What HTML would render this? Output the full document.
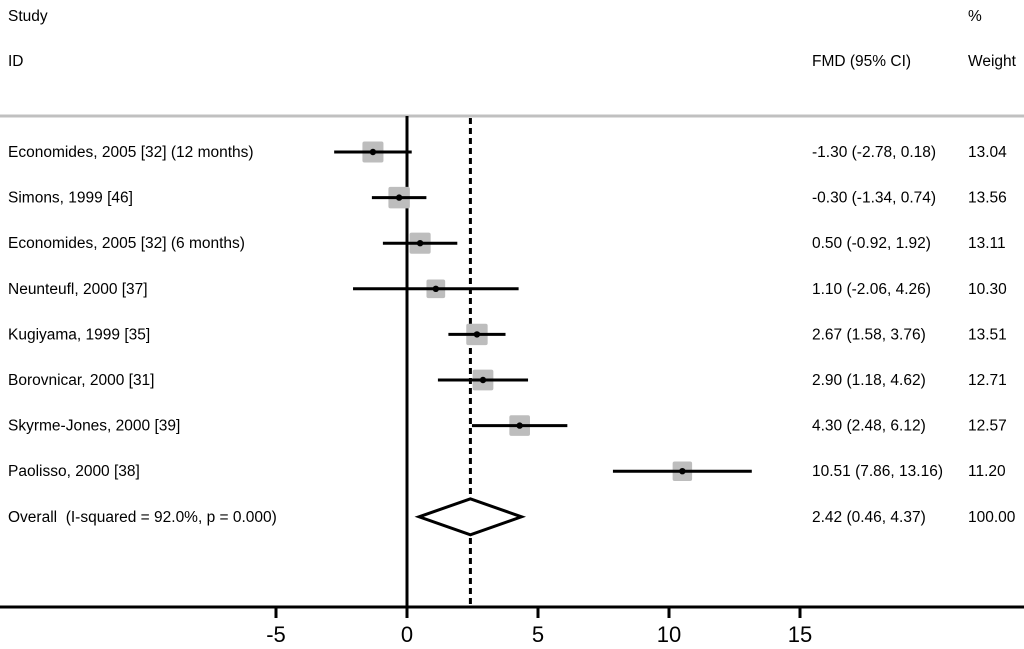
<!DOCTYPE html>
<html><head><meta charset="utf-8"><style>
body{margin:0;background:#fff;}
svg text{font-family:"Liberation Sans",Arial,sans-serif;fill:#000;white-space:pre;}
</style></head><body>
<svg id="chart" width="1024" height="644" viewBox="0 0 1024 644" xmlns="http://www.w3.org/2000/svg">
<text x="8" y="21" font-size="15.5">Study</text>
<text x="8" y="66" font-size="15.5">ID</text>
<text x="812" y="66" font-size="15.5">FMD (95% CI)</text>
<text x="968" y="21" font-size="15.5">%</text>
<text x="968" y="66" font-size="15.5">Weight</text>
<line x1="0" y1="116" x2="1024" y2="116" stroke="#c0c0c0" stroke-width="3"/>
<g id="marks"></g>
</svg>
<script>
const studies=["Economides, 2005 [32] (12 months)","Simons, 1999 [46]","Economides, 2005 [32] (6 months)","Neunteufl, 2000 [37]","Kugiyama, 1999 [35]","Borovnicar, 2000 [31]","Skyrme-Jones, 2000 [39]","Paolisso, 2000 [38]"];
const est=[-1.30,-0.30,0.50,1.10,2.67,2.90,4.30,10.51];
const lo=[-2.78,-1.34,-0.92,-2.06,1.58,1.18,2.48,7.86];
const hi=[0.18,0.74,1.92,4.26,3.76,4.62,6.12,13.16];
const weights=[13.04,13.56,13.11,10.30,13.51,12.71,12.57,11.20];
const overall=[2.42,0.46,4.37];
const overallLabel="Overall  (I-squared = 92.0%, p = 0.000)";
const ticks=[-5,0,5,10,15];

const NS="http://www.w3.org/2000/svg";
const g=document.getElementById('marks');
const x=v=>407+v*26.2;
const rowY=i=>152+i*45.6;
const FS=15.5;
function mk(t,a){const e=document.createElementNS(NS,t);for(const k in a)e.setAttribute(k,a[k]);g.appendChild(e);return e;}
const f2=v=>v.toFixed(2);

let zl=mk('line',{x1:x(0),y1:116,x2:x(0),y2:607,stroke:'#000','stroke-width':3});


let dl=mk('line',{x1:x(overall[0]),y1:118,x2:x(overall[0]),y2:607,stroke:'#000','stroke-width':3,'stroke-dasharray':'6,4'});



studies.forEach((s,i)=>{
  const y=rowY(i);
  const side=21*Math.sqrt(weights[i]/13);
  let sq=mk('rect',{x:x(est[i])-side/2,y:y-side/2,width:side,height:side,rx:2,fill:'#bdbdbd'});
  
  
  let ci=mk('line',{x1:x(lo[i]),y1:y,x2:x(hi[i]),y2:y,stroke:'#000','stroke-width':3});
  
  
  let pt=mk('circle',{cx:x(est[i]),cy:y,r:3.2,fill:'#000'});
  
  
  let t=mk('text',{x:8,y:y+5,'font-size':FS});t.textContent=s;
  
  
  let c=mk('text',{x:812,y:y+5,'font-size':FS});c.textContent=f2(est[i])+' ('+f2(lo[i])+', '+f2(hi[i])+')';
  
  
  let w=mk('text',{x:968,y:y+5,'font-size':FS});w.textContent=f2(weights[i]);
  
  
});
const oy=rowY(studies.length);
let dm=mk('polygon',{points:`${x(overall[1])},${oy} ${x(overall[0])},${oy-18} ${x(overall[2])},${oy} ${x(overall[0])},${oy+18}`,fill:'#fff',stroke:'#000','stroke-width':3});


let ol=mk('text',{x:8,y:oy+5,'font-size':FS});ol.textContent=overallLabel;


let oc=mk('text',{x:812,y:oy+5,'font-size':FS});oc.textContent=f2(overall[0])+' ('+f2(overall[1])+', '+f2(overall[2])+')';


let ow=mk('text',{x:968,y:oy+5,'font-size':FS});ow.textContent='100.00';



let ax=mk('line',{x1:0,y1:607,x2:1024,y2:607,stroke:'#000','stroke-width':3});


ticks.forEach(v=>{
  let tk=mk('line',{x1:x(v),y1:607,x2:x(v),y2:618,stroke:'#000','stroke-width':3});
  
  
  let tl=mk('text',{x:x(v),y:642,'font-size':22,'text-anchor':'middle'});tl.textContent=v;
  
  
});
</script>
</body></html>
